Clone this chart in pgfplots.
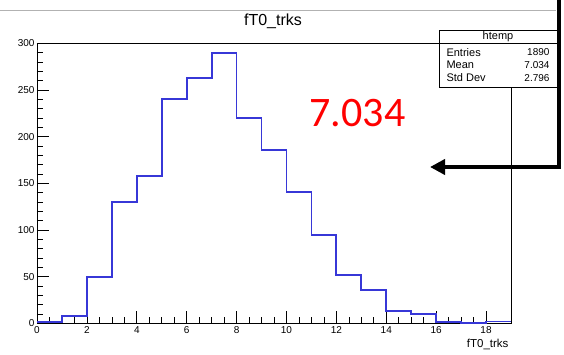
\documentclass[border=0pt]{standalone}
\usepackage{pgfplots}
\pgfplotsset{compat=1.18}
\usepackage{fontspec}
\setmainfont{Liberation Sans}
\newfontfamily\carlito{Carlito}
\usetikzlibrary{arrows.meta}
\definecolor{histblue}{RGB}{55,55,215}
\begin{document}
\begin{tikzpicture}
\useasboundingbox (-37pt,-30.7pt) rectangle (527pt,323.3pt);
% canvas top line
\draw[gray!60, line width=0.6pt] (-37pt,313.3pt) -- (519pt,313.3pt);
\begin{axis}[
  at={(0pt,0pt)}, anchor=south west,
  width=474pt, height=280pt, scale only axis,
  xmin=0, xmax=19, ymin=0, ymax=300,
  xtick={0,2,...,18}, minor x tick num=3,
  ytick={0,50,...,300}, minor y tick num=4,
  tick align=inside, xtick pos=bottom, ytick pos=left,
  major tick length=12pt, minor tick length=6pt,
  tick style={black, line width=0.6pt},
  ticklabel style={font=\fontsize{10}{11}\selectfont},
  yticklabel style={xshift=1pt},
  /pgf/number format/assume math mode=true,
  axis line style={line width=0.8pt},
  xlabel={fT0\_trks},
  xlabel style={at={(rel axis cs:1,0)}, anchor=north east, yshift=-12pt, xshift=1pt, font=\fontsize{11.5}{12}\selectfont},
]
\addplot[const plot, draw=histblue, line width=1.8pt] coordinates {
(0,1) (1,8) (2,50) (3,130) (4,158) (5,240) (6,263) (7,290) (8,220) (9,186)
(10,141) (11,95) (12,52) (13,36) (14,13) (15,10) (16,1) (17,0) (18,2) (19,2)
};
\end{axis}
% title
\node[font=\fontsize{16}{18}\selectfont] at (236pt,302.5pt) {fT0\_trks};
% stats box
\draw[fill=white, line width=0.7pt] (402pt,236.3pt) rectangle (520pt,293.3pt);
\draw[line width=0.6pt] (402pt,280.3pt) -- (520pt,280.3pt);
\node[font=\fontsize{11}{12}\selectfont] at (461pt,286.8pt) {htemp};
\node[font=\fontsize{11}{12}\selectfont, anchor=west] at (406pt,271pt) {Entries};
\node[font=\fontsize{11}{12}\selectfont, anchor=west] at (406pt,258.5pt) {Mean};
\node[font=\fontsize{11}{12}\selectfont, anchor=west] at (406pt,245.5pt) {Std Dev};
\node[font=\fontsize{10}{11}\selectfont, anchor=east] at (516pt,271pt) {1890};
\node[font=\fontsize{10}{11}\selectfont, anchor=east] at (516pt,258.5pt) {7.034};
\node[font=\fontsize{10}{11}\selectfont, anchor=east] at (516pt,245.5pt) {2.796};
% red annotation
\node[red, font=\carlito\fontsize{42}{44}\selectfont] at (320.5pt,209.8pt) {7.034};
% arrow
\draw[line width=4pt, -{Triangle[length=15pt,width=15pt]}] (522pt,330pt) -- (522pt,156.3pt) -- (393pt,156.3pt);
\end{tikzpicture}
\end{document}
